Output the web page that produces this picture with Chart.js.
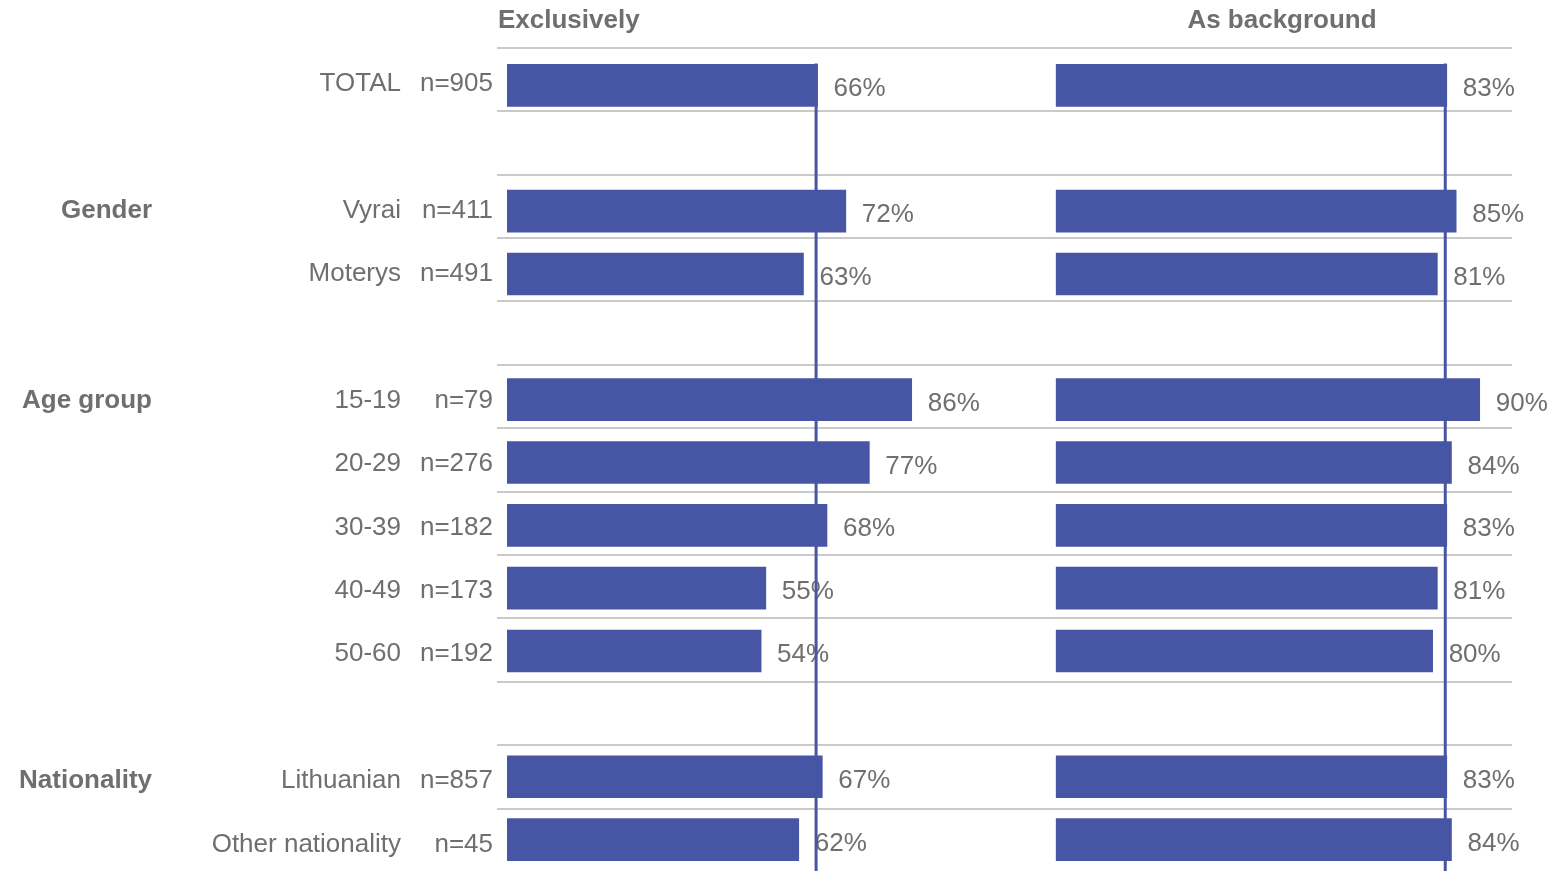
<!DOCTYPE html>
<html>
<head>
<meta charset="utf-8">
<script src="https://cdn.jsdelivr.net/npm/chart.js@4"></script>
<style>
  html, body { margin: 0; padding: 0; background: #ffffff; overflow: hidden; }
  #wrap { position: relative; width: 1555px; height: 871px; overflow: hidden; }
</style>
</head>
<body>
<div id="wrap"><canvas id="c" width="1555" height="871"></canvas></div>
<script>
// Rows of the chart (empty strings are spacer rows between groups)
const rowLabels    = ['TOTAL', '', 'Vyrai', 'Moterys', '', '15-19', '20-29', '30-39', '40-49', '50-60', '', 'Lithuanian', 'Other nationality'];
const sampleSizes  = ['n=905', '', 'n=411', 'n=491', '', 'n=79', 'n=276', 'n=182', 'n=173', 'n=192', '', 'n=857', 'n=45'];
const groupLabels  = ['', '', 'Gender', '', '', 'Age group', '', '', '', '', '', 'Nationality', ''];
const exclusively  = [66, null, 72, 63, null, 86, 77, 68, 55, 54, null, 67, 62];
const asBackground = [83, null, 85, 81, null, 90, 84, 83, 81, 80, null, 83, 84];
const panelTitles  = ['Exclusively', 'As background'];

const BAR = '#4755A5';
const TEXT = '#6F6F6F';
const GRID = '#C9C9C9';
const FONT = '"Liberation Sans", Arial, sans-serif';

// Separator bands: slightly wider pitch than the bars, spanning the first to last row
function bandGeometry(chart) {
  const y = chart.scales.y;
  const last = rowLabels.length - 1;
  const top = y.getPixelForValue(0) - 37.5;
  const step = (y.getPixelForValue(last) - 31 - top) / last;
  return { top, step };
}

const panelPlugin = {
  id: 'panels',
  beforeDatasetsDraw(chart) {
    const ctx = chart.ctx;
    const { top, step } = bandGeometry(chart);
    ctx.save();
    ctx.strokeStyle = GRID;
    ctx.lineWidth = 2;
    for (let k = 0; k < rowLabels.length; k++) {
      const yy = Math.round(top + k * step);
      ctx.beginPath();
      ctx.moveTo(497, yy);
      ctx.lineTo(1512, yy);
      ctx.stroke();
    }
    ctx.restore();
  },
  afterDatasetsDraw(chart) {
    const ctx = chart.ctx;
    const y = chart.scales.y;
    const { top, step } = bandGeometry(chart);
    ctx.save();

    // value labels at the end of each bar
    ctx.font = '26px ' + FONT;
    ctx.fillStyle = TEXT;
    ctx.textAlign = 'left';
    ctx.textBaseline = 'alphabetic';
    chart.data.datasets.forEach((ds, di) => {
      const meta = chart.getDatasetMeta(di);
      meta.data.forEach((bar, i) => {
        const v = ds.data[i];
        if (v === null || v === undefined) return;
        ctx.fillText(v + '%', bar.x + 16, bar.y + 11);
      });
    });

    // TOTAL reference lines in each panel
    ctx.strokeStyle = BAR;
    ctx.lineWidth = 3;
    [['x', exclusively[0]], ['x2', asBackground[0]]].forEach(([id, v]) => {
      const px = chart.scales[id].getPixelForValue(v) - 1.5;
      const lineTop = y.getPixelForValue(0) - 22;
      ctx.beginPath();
      ctx.moveTo(px, lineTop);
      ctx.lineTo(px, chart.height);
      ctx.stroke();
    });

    // row labels: category, sample size, group heading
    for (let k = 0; k < rowLabels.length; k++) {
      const base = top + k * step + 43;
      ctx.font = '26px ' + FONT;
      ctx.textAlign = 'right';
      if (rowLabels[k]) ctx.fillText(rowLabels[k], 401, base);
      if (sampleSizes[k]) ctx.fillText(sampleSizes[k], 493, base);
      if (groupLabels[k]) {
        ctx.font = 'bold 26px ' + FONT;
        ctx.fillText(groupLabels[k], 152, base);
      }
    }

    // panel headings
    ctx.font = 'bold 26px ' + FONT;
    ctx.textAlign = 'left';
    ctx.fillText(panelTitles[0], 498, 28);
    ctx.textAlign = 'center';
    ctx.fillText(panelTitles[1], 1282, 28);

    ctx.restore();
  }
};

new Chart(document.getElementById('c'), {
  type: 'bar',
  data: {
    labels: rowLabels,
    datasets: [
      { label: panelTitles[0], data: exclusively, xAxisID: 'x', backgroundColor: BAR, barThickness: 42, grouped: false },
      { label: panelTitles[1], data: asBackground, xAxisID: 'x2', backgroundColor: BAR, barThickness: 42, grouped: false }
    ]
  },
  options: {
    indexAxis: 'y',
    responsive: false,
    animation: false,
    devicePixelRatio: 1,
    layout: { padding: { left: 507, top: 54, right: 0, bottom: 0 } },
    scales: {
      y: { type: 'category', display: false, offset: true },
      x: { type: 'linear', display: false, min: 0, max: 222.7 },
      x2: { type: 'linear', display: false, min: -116.7, max: 106.0 }
    },
    plugins: {
      legend: { display: false },
      tooltip: { enabled: false }
    }
  },
  plugins: [panelPlugin]
});
</script>
</body>
</html>
